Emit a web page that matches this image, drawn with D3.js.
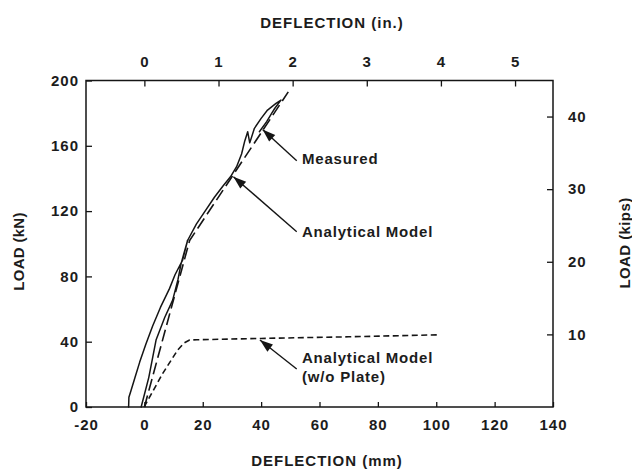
<!DOCTYPE html>
<html>
<head>
<meta charset="utf-8">
<script src="https://cdn.jsdelivr.net/npm/d3@7"></script>
<style>
  body { margin: 0; background: #fff; }
  svg text { font-family: Arial, "Liberation Sans", Helvetica, sans-serif; font-weight: bold; font-size: 15px; fill: #1c1c1c; }
  .tick text { letter-spacing: 1px; }
  .note { letter-spacing: 0.8px; }
</style>
</head>
<body>
<div id="chart"></div>
<script>
// --- Data: deflection (mm), load (kN) ---
const KN_PER_KIP = 4.448;
const MM_PER_IN = 25.4;

// first cycle to ~100 kN (reload branch + unload branch)
const measuredCycle = [
  [-1.1, 0], [1.5, 18], [4, 41], [7, 55], [9.7, 65.5], [11.5, 78], [12.6, 88], [14.8, 102],
  [13.1, 90], [10.5, 81], [8.6, 72.5], [5.5, 61], [2.8, 49.5], [0.5, 38.5], [-1.6, 27.5],
  [-3.4, 17], [-4.6, 10], [-5.3, 6], [-5.4, 0]
];
// final loading to failure
const measuredFinal = [
  [14.8, 102], [17.8, 112], [20.8, 120], [24, 128.5], [27, 135.5], [29.5, 141], [31.6, 147.2],
  [33.3, 155], [34.4, 163], [35.4, 168.6], [36.1, 161.8], [37.7, 170.7], [40, 176.8],
  [42.2, 181.9], [45.1, 186], [46.8, 188], [44.7, 183], [43.6, 179.9], [41.9, 174.8], [39.4, 168.6]
];
const analytical = [[0, 0], [15.5, 102], [49.3, 193]];
const analyticalNoPlate = [
  [0, 0], [0.6, 2.3], [6.3, 20.6], [11.4, 34.9], [13.6, 39.2], [15.5, 41], [18, 41.2],
  [40, 42], [70, 43], [100.5, 44.2]
];

const mmTicks = [-20, 0, 20, 40, 60, 80, 100, 120, 140];
const kNTicks = [0, 40, 80, 120, 160, 200];
const inTicks = [0, 1, 2, 3, 4, 5];
const kipTicks = [10, 20, 30, 40];

// callouts: label lines (mm, kN of first baseline), arrow tail -> tip
const callouts = [
  { lines: ["Measured"], at: [54, 148.6], from: [52.2, 150.9], to: [40.5, 170] },
  { lines: ["Analytical Model"], at: [54, 104.3], from: [52.2, 107.4], to: [30.5, 141.1] },
  { lines: ["Analytical Model", "(w/o Plate)"], at: [54, 27], from: [52.2, 23.3], to: [39.6, 41] }
];

// --- Chart ---
const width = 632, height = 470;
const svg = d3.select('#chart').append('svg').attr('width', width).attr('height', height);

const x = d3.scaleLinear().domain([-20, 140]).range([86, 553]);
const y = d3.scaleLinear().domain([0, 200]).range([407, 80.5]);
const xIn = d3.scaleLinear().domain(x.domain().map(d => d / MM_PER_IN)).range(x.range());
const yKips = d3.scaleLinear().domain(y.domain().map(d => d / KN_PER_KIP)).range(y.range());

const ink = '#151515';
const plain = d => String(d); // keep ASCII hyphen for negatives

// axes (ticks point inward)
function styleAxis(g) {
  g.select('.domain').remove();
  g.attr('font-size', null).attr('font-family', null);
  g.selectAll('.tick line').attr('stroke', ink).attr('stroke-width', 1.3);
}
svg.append('g').attr('transform', `translate(0,${y(0)})`)
  .call(d3.axisBottom(x).tickValues(mmTicks).tickFormat(plain).tickSizeInner(-5).tickSizeOuter(0).tickPadding(12))
  .call(styleAxis);
svg.append('g').attr('transform', `translate(${x(-20)},0)`)
  .call(d3.axisLeft(y).tickValues(kNTicks).tickFormat(plain).tickSizeInner(-6).tickSizeOuter(0).tickPadding(7))
  .call(styleAxis);
svg.append('g').attr('transform', `translate(0,${y(200)})`)
  .call(d3.axisTop(xIn).tickValues(inTicks).tickFormat(plain).tickSizeInner(-6).tickSizeOuter(0).tickPadding(14))
  .call(styleAxis);
svg.append('g').attr('transform', `translate(${x(140)},0)`)
  .call(d3.axisRight(yKips).tickValues(kipTicks).tickFormat(plain).tickSizeInner(-6).tickSizeOuter(0).tickPadding(15))
  .call(styleAxis);

// frame
svg.append('rect')
  .attr('x', x(-20)).attr('y', y(200))
  .attr('width', x(140) - x(-20)).attr('height', y(0) - y(200))
  .attr('fill', 'none').attr('stroke', ink).attr('stroke-width', 1.5);

// axis titles
svg.append('text').attr('x', 332).attr('y', 28).attr('text-anchor', 'middle')
  .style('letter-spacing', '1px').text('DEFLECTION (in.)');
svg.append('text').attr('x', 327).attr('y', 466).attr('text-anchor', 'middle')
  .style('letter-spacing', '1px').text('DEFLECTION (mm)');
svg.append('text').attr('transform', 'translate(23.5,251.5) rotate(-90)').attr('text-anchor', 'middle')
  .style('letter-spacing', '0.3px').text('LOAD (kN)');
svg.append('text').attr('transform', 'translate(630,243) rotate(-90)').attr('text-anchor', 'middle')
  .style('letter-spacing', '0.4px').text('LOAD (kips)');

// curves
const line = d3.line().x(d => x(d[0])).y(d => y(d[1]));
const curves = svg.append('g').attr('fill', 'none').attr('stroke', ink)
  .attr('stroke-linejoin', 'round').attr('stroke-linecap', 'round');
curves.append('path').attr('d', line(measuredCycle)).attr('stroke-width', 1.5);
curves.append('path').attr('d', line(measuredFinal)).attr('stroke-width', 1.5);
curves.append('path').attr('d', line(analytical)).attr('stroke-width', 1.6)
  .attr('stroke-linecap', 'butt').attr('stroke-dasharray', '12,5');
curves.append('path').attr('d', line(analyticalNoPlate)).attr('stroke-width', 1.6)
  .attr('stroke-linecap', 'butt').attr('stroke-dasharray', '6,3.5');

// callout arrows
svg.append('defs').append('marker')
  .attr('id', 'head').attr('viewBox', '-14 -5 15 10')
  .attr('refX', 0).attr('refY', 0)
  .attr('markerWidth', 15).attr('markerHeight', 10)
  .attr('markerUnits', 'userSpaceOnUse').attr('orient', 'auto')
  .append('path').attr('d', 'M0,0L-13,-4.5L-13,4.5Z').attr('fill', ink);

const notes = svg.append('g');
callouts.forEach(c => {
  notes.append('line')
    .attr('x1', x(c.from[0])).attr('y1', y(c.from[1]))
    .attr('x2', x(c.to[0])).attr('y2', y(c.to[1]))
    .attr('stroke', ink).attr('stroke-width', 1.4)
    .attr('marker-end', 'url(#head)');
  const t = notes.append('text').attr('class', 'note')
    .attr('x', x(c.at[0])).attr('y', y(c.at[1]));
  c.lines.forEach((s, i) => {
    t.append('tspan').attr('x', x(c.at[0])).attr('dy', i ? 19 : 0).text(s);
  });
});
</script>
</body>
</html>
